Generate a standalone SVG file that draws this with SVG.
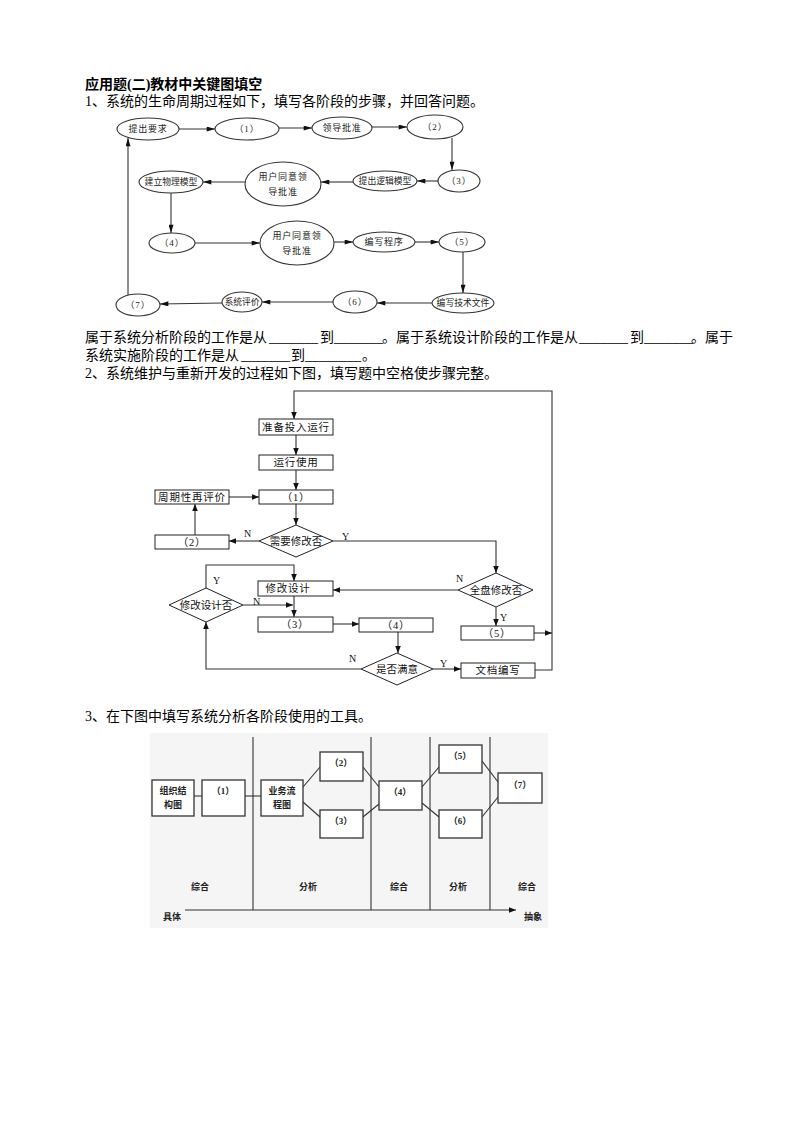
<svg xmlns="http://www.w3.org/2000/svg" width="800" height="1132" viewBox="0 0 800 1132">
<style>
.t{font-family:"Liberation Serif","Noto Sans CJK SC",serif;font-size:14px;fill:#000}
.h{font-weight:bold}
.e{fill:#fff;stroke:#333;stroke-width:1.1}
.el{font-family:"Liberation Serif","Noto Sans CJK SC",serif;font-size:9px;fill:#222;text-anchor:middle;letter-spacing:0.8px}
.el6{letter-spacing:0px;font-size:8.8px}
.c{fill:none;stroke:#333;stroke-width:1.1}
.b{fill:#fff;stroke:#222;stroke-width:1}
.bl{font-family:"Liberation Serif","Noto Sans CJK SC",serif;font-size:10.5px;fill:#111;text-anchor:middle;letter-spacing:0.8px}
.dl{letter-spacing:0px;font-size:10.5px}
.yn{font-family:"Liberation Serif",serif;font-size:10px;fill:#111}
.s3{fill:#fff;stroke:#333;stroke-width:1.3}
.s3l{font-family:"Liberation Serif","Noto Sans CJK SC",serif;font-size:9px;font-weight:bold;fill:#222;text-anchor:middle}
</style>
<defs>
<marker id="ah" viewBox="0 0 10 6" refX="10" refY="3" markerWidth="9" markerHeight="5" orient="auto" markerUnits="userSpaceOnUse"><path d="M0,0 L10,3 L0,6 z" fill="#111"/></marker>
<marker id="ah2" viewBox="0 0 10 8" refX="10" refY="4" markerWidth="7" markerHeight="6" orient="auto" markerUnits="userSpaceOnUse"><path d="M0,0 L10,4 L0,8 z" fill="#111"/></marker>
</defs>
<rect width="800" height="1132" fill="#fff"/>

<!-- headings -->
<text class="t h" x="85" y="89">应用题(二)教材中关键图填空</text>
<text class="t" x="85" y="106">1、系统的生命周期过程如下，填写各阶段的步骤，并回答问题。</text>
<text class="t" y="342"><tspan x="85">属于系统分析阶段的工作是从</tspan><tspan x="269">_______</tspan><tspan x="320">到</tspan><tspan x="334">_______</tspan><tspan x="382">。属于系统设计阶段的工作是从</tspan><tspan x="579">_______</tspan><tspan x="630">到</tspan><tspan x="644">_______</tspan><tspan x="691">。属于</tspan></text>
<text class="t" y="360"><tspan x="85">系统实施阶段的工作是从</tspan><tspan x="241">_______</tspan><tspan x="291">到</tspan><tspan x="305">________</tspan><tspan x="362">。</tspan></text>
<text class="t" x="85" y="378">2、系统维护与重新开发的过程如下图，填写题中空格使步骤完整。</text>
<text class="t" x="85" y="721">3、在下图中填写系统分析各阶段使用的工具。</text>

<!-- ===== Diagram 1 ===== -->
<g id="d1-connectors">
<line class="c" x1="179" y1="129" x2="215" y2="129" marker-end="url(#ah)"/>
<line class="c" x1="279" y1="128" x2="312" y2="128" marker-end="url(#ah)"/>
<line class="c" x1="372" y1="127" x2="407" y2="127" marker-end="url(#ah)"/>
<line class="c" x1="452" y1="138" x2="452" y2="170" marker-end="url(#ah)"/>
<line class="c" x1="438" y1="181" x2="417" y2="181" marker-end="url(#ah)"/>
<line class="c" x1="353" y1="182" x2="321" y2="182" marker-end="url(#ah)"/>
<line class="c" x1="245" y1="182" x2="203" y2="182" marker-end="url(#ah)"/>
<line class="c" x1="171" y1="193" x2="171" y2="233" marker-end="url(#ah)"/>
<line class="c" x1="195" y1="243" x2="260" y2="243" marker-end="url(#ah)"/>
<line class="c" x1="334" y1="242" x2="353" y2="242" marker-end="url(#ah)"/>
<line class="c" x1="415" y1="242" x2="439" y2="242" marker-end="url(#ah)"/>
<line class="c" x1="463" y1="252" x2="463" y2="293" marker-end="url(#ah)"/>
<line class="c" x1="432" y1="303" x2="377" y2="303" marker-end="url(#ah)"/>
<line class="c" x1="333" y1="302" x2="262" y2="302" marker-end="url(#ah)"/>
<line class="c" x1="222" y1="303" x2="160" y2="304" marker-end="url(#ah)"/>
<line class="c" x1="128" y1="295" x2="128" y2="138" marker-end="url(#ah)"/>
</g>
<g id="n-req"><ellipse class="e" cx="148" cy="129" rx="31" ry="11"/><text class="el" x="148" y="132">提出要求</text></g>
<g id="n-s1"><ellipse class="e" cx="247" cy="129" rx="32" ry="11"/><text class="el" x="247" y="132">（1）</text></g>
<g id="n-lead"><ellipse class="e" cx="342" cy="128" rx="30" ry="11"/><text class="el" x="342" y="131">领导批准</text></g>
<g id="n-s2"><ellipse class="e" cx="435" cy="127" rx="28" ry="12"/><text class="el" x="435" y="130">（2）</text></g>
<g id="n-s3"><ellipse class="e" cx="459" cy="181" rx="21" ry="11"/><text class="el" x="459" y="184">（3）</text></g>
<g id="n-logic"><ellipse class="e" cx="385" cy="181" rx="32" ry="10"/><text class="el el6" x="385" y="184">提出逻辑模型</text></g>
<g id="n-user1"><ellipse class="e" cx="283" cy="184" rx="38" ry="22"/><text class="el" x="283" y="180">用户同意领</text><text class="el" x="283" y="195">导批准</text></g>
<g id="n-phys"><ellipse class="e" cx="171" cy="182" rx="32" ry="11"/><text class="el el6" x="171" y="185">建立物理模型</text></g>
<g id="n-s4"><ellipse class="e" cx="172" cy="243" rx="23" ry="10"/><text class="el" x="172" y="246">（4）</text></g>
<g id="n-user2"><ellipse class="e" cx="297" cy="243" rx="37" ry="22"/><text class="el" x="297" y="239">用户同意领</text><text class="el" x="297" y="254">导批准</text></g>
<g id="n-prog"><ellipse class="e" cx="384" cy="242" rx="31" ry="10"/><text class="el" x="384" y="245">编写程序</text></g>
<g id="n-s5"><ellipse class="e" cx="462" cy="242" rx="23" ry="10"/><text class="el" x="462" y="245">（5）</text></g>
<g id="n-doc"><ellipse class="e" cx="463" cy="303" rx="31" ry="10"/><text class="el el6" x="463" y="306">编写技术文件</text></g>
<g id="n-s6"><ellipse class="e" cx="355" cy="302" rx="22" ry="11"/><text class="el" x="355" y="305">（6）</text></g>
<g id="n-eval"><ellipse class="e" cx="242" cy="302" rx="20" ry="10"/><text class="el el6" x="242" y="305">系统评价</text></g>
<g id="n-s7"><ellipse class="e" cx="138" cy="305" rx="22" ry="11"/><text class="el" x="138" y="308">（7）</text></g>

<!-- ===== Diagram 2 ===== -->
<g id="d2-connectors">
<path class="c" d="M535,670 H552 V391 H294 V419" marker-end="url(#ah2)"/>
<line class="c" x1="296" y1="435" x2="296" y2="455" marker-end="url(#ah2)"/>
<line class="c" x1="296" y1="470" x2="296" y2="490" marker-end="url(#ah2)"/>
<line class="c" x1="229" y1="497" x2="259" y2="497" marker-end="url(#ah2)"/>
<line class="c" x1="296" y1="504" x2="296" y2="525" marker-end="url(#ah2)"/>
<line class="c" x1="259" y1="541" x2="229" y2="541" marker-end="url(#ah2)"/>
<line class="c" x1="195" y1="535" x2="195" y2="504" marker-end="url(#ah2)"/>
<path class="c" d="M333,541 H496 V573" marker-end="url(#ah2)"/>
<line class="c" x1="458" y1="590" x2="333" y2="590" marker-end="url(#ah2)"/>
<line class="c" x1="496" y1="607" x2="496" y2="626" marker-end="url(#ah2)"/>
<line class="c" x1="534" y1="633" x2="552" y2="633" marker-end="url(#ah2)"/>
<path class="c" d="M206,588 V565 H294 V581" marker-end="url(#ah2)"/>
<line class="c" x1="243" y1="605" x2="293" y2="605" marker-end="url(#ah2)"/>
<line class="c" x1="294" y1="596" x2="294" y2="617" marker-end="url(#ah2)"/>
<line class="c" x1="333" y1="624" x2="359" y2="624" marker-end="url(#ah2)"/>
<line class="c" x1="398" y1="632" x2="398" y2="653" marker-end="url(#ah2)"/>
<line class="c" x1="433" y1="669" x2="461" y2="669" marker-end="url(#ah2)"/>
<path class="c" d="M361,669 H206 V622" marker-end="url(#ah2)"/>
<text class="yn" x="244" y="537">N</text>
<text class="yn" x="342" y="540">Y</text>
<text class="yn" x="456" y="582">N</text>
<text class="yn" x="500" y="621">Y</text>
<text class="yn" x="213" y="584">Y</text>
<text class="yn" x="253" y="605">N</text>
<text class="yn" x="349" y="662">N</text>
<text class="yn" x="440" y="667">Y</text>
</g>
<g id="n-prep"><rect class="b" x="259" y="419" width="74" height="16"/><text class="bl" x="296" y="431">准备投入运行</text></g>
<g id="n-run"><rect class="b" x="259" y="455" width="74" height="15"/><text class="bl" x="296" y="466">运行使用</text></g>
<g id="n-b1"><rect class="b" x="259" y="490" width="74" height="14"/><text class="bl" x="296" y="501">（1）</text></g>
<g id="n-period"><rect class="b" x="155" y="490" width="74" height="14"/><text class="bl" x="192" y="501">周期性再评价</text></g>
<g id="n-need"><polygon class="b" points="296,525 333,541 296,557 259,541"/><text class="bl dl" x="296" y="545">需要修改否</text></g>
<g id="n-b2"><rect class="b" x="155" y="535" width="74" height="14"/><text class="bl" x="192" y="546">（2）</text></g>
<g id="n-full"><polygon class="b" points="496,573 533,590 496,607 458,590"/><text class="bl dl" x="496" y="594">全盘修改否</text></g>
<g id="n-b5"><rect class="b" x="461" y="626" width="73" height="14"/><text class="bl" x="497" y="637">（5）</text></g>
<g id="n-mod"><rect class="b" x="258" y="581" width="75" height="15"/><text class="bl" x="288" y="592">修改设计</text></g>
<g id="n-moddes"><polygon class="b" points="206,588 243,605 206,622 169,605"/><text class="bl dl" x="206" y="609">修改设计否</text></g>
<g id="n-b3"><rect class="b" x="258" y="617" width="75" height="15"/><text class="bl" x="295" y="628">（3）</text></g>
<g id="n-b4"><rect class="b" x="359" y="618" width="74" height="14"/><text class="bl" x="396" y="629">（4）</text></g>
<g id="n-sat"><polygon class="b" points="397,653 433,669 397,685 361,669"/><text class="bl dl" x="397" y="673">是否满意</text></g>
<g id="n-docw"><rect class="b" x="461" y="663" width="74" height="15"/><text class="bl" x="498" y="674">文档编写</text></g>

<!-- ===== Diagram 3 ===== -->
<rect x="150" y="733" width="398" height="195" fill="#f5f5f5"/>
<g id="d3-lines">
<line class="c" x1="253" y1="737" x2="253" y2="910" stroke-width="1.3"/>
<line class="c" x1="371" y1="737" x2="371" y2="910" stroke-width="1.3"/>
<line class="c" x1="430" y1="737" x2="430" y2="910" stroke-width="1.3"/>
<line class="c" x1="490" y1="737" x2="490" y2="910" stroke-width="1.3"/>
<line class="c" x1="185" y1="910" x2="516" y2="910" stroke-width="1.3" marker-end="url(#ah2)"/>
<line class="c" x1="194" y1="796" x2="202" y2="796" stroke-width="1.3"/>
<line class="c" x1="245" y1="796" x2="261" y2="796" stroke-width="1.3"/>
<line class="c" x1="303" y1="787" x2="320" y2="767" stroke-width="1.3"/>
<line class="c" x1="303" y1="802" x2="320" y2="817" stroke-width="1.3"/>
<line class="c" x1="363" y1="767" x2="379" y2="787" stroke-width="1.3"/>
<line class="c" x1="363" y1="817" x2="379" y2="804" stroke-width="1.3"/>
<line class="c" x1="422" y1="787" x2="439" y2="767" stroke-width="1.3"/>
<line class="c" x1="422" y1="803" x2="439" y2="817" stroke-width="1.3"/>
<line class="c" x1="482" y1="761" x2="498" y2="782" stroke-width="1.3"/>
<line class="c" x1="482" y1="817" x2="498" y2="797" stroke-width="1.3"/>
</g>
<g id="t-org"><rect class="s3" x="152" y="780" width="42" height="36"/><text class="s3l" x="173" y="794">组织结</text><text class="s3l" x="173" y="808">构图</text></g>
<g id="t-1"><rect class="s3" x="202" y="780" width="43" height="36"/><text class="s3l" x="223" y="794">（1）</text></g>
<g id="t-biz"><rect class="s3" x="261" y="780" width="42" height="36"/><text class="s3l" x="282" y="794">业务流</text><text class="s3l" x="282" y="808">程图</text></g>
<g id="t-2"><rect class="s3" x="320" y="752" width="43" height="29"/><text class="s3l" x="341" y="766">（2）</text></g>
<g id="t-3"><rect class="s3" x="320" y="810" width="43" height="28"/><text class="s3l" x="341" y="824">（3）</text></g>
<g id="t-4"><rect class="s3" x="379" y="781" width="43" height="29"/><text class="s3l" x="400" y="795">（4）</text></g>
<g id="t-5"><rect class="s3" x="439" y="745" width="43" height="28"/><text class="s3l" x="460" y="759">（5）</text></g>
<g id="t-6"><rect class="s3" x="439" y="810" width="43" height="28"/><text class="s3l" x="460" y="824">（6）</text></g>
<g id="t-7"><rect class="s3" x="498" y="773" width="44" height="30"/><text class="s3l" x="520" y="788">（7）</text></g>
<text class="s3l" x="200" y="890">综合</text>
<text class="s3l" x="308" y="890">分析</text>
<text class="s3l" x="399" y="890">综合</text>
<text class="s3l" x="458" y="890">分析</text>
<text class="s3l" x="527" y="890">综合</text>
<text class="s3l" x="172" y="920">具体</text>
<text class="s3l" x="533" y="920">抽象</text>
</svg>
